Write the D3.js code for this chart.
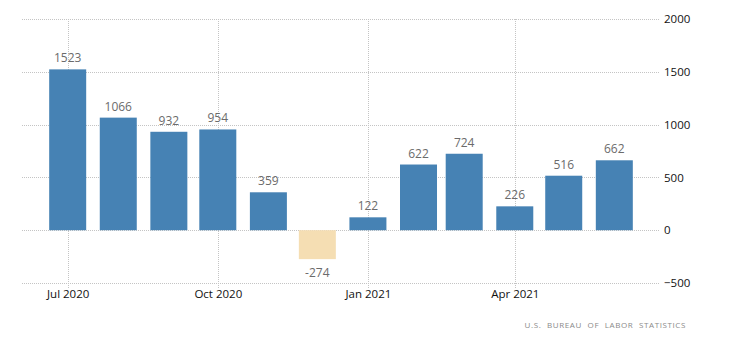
<!DOCTYPE html>
<html>
<head>
<meta charset="utf-8">
<script src="https://cdn.jsdelivr.net/npm/d3@7"></script>
<style>
  html, body { margin: 0; padding: 0; background: #fff; }
  svg { display: block; }
</style>
</head>
<body>
<svg id="chart" width="730" height="344"></svg>
<script>
// Monthly change, thousands of jobs
const months = ["2020-07", "2020-08", "2020-09", "2020-10", "2020-11", "2020-12",
                "2021-01", "2021-02", "2021-03", "2021-04", "2021-05", "2021-06"];
const values = [1523, 1066, 932, 954, 359, -274, 122, 622, 724, 226, 516, 662];
const yTicks = [-500, 0, 500, 1000, 1500, 2000];
const xTickDates = ["2020-07", "2020-10", "2021-01", "2021-04"];
const sourceText = "U.S. BUREAU OF LABOR STATISTICS";

const parse = d3.timeParse("%Y-%m");
const data = months.map((m, i) => ({ date: parse(m), value: values[i] }));

const svg = d3.select("#chart");
const font = "'Open Sans', 'DejaVu Sans', sans-serif";

const plotLeft = 22, plotRight = 660, plotTop = 19, plotBottom = 283;

const x = d3.scaleTime()
  .domain([new Date(2020, 5, 3), new Date(2021, 5, 29)])
  .range([plotLeft, plotRight]);

const y = d3.scaleLinear()
  .domain([-500, 2000])
  .range([plotBottom, plotTop]);

const barWidth = 37;

// Gridlines
const grid = svg.append("g");
grid.selectAll("line.h").data(yTicks).join("line")
  .attr("x1", plotLeft).attr("x2", plotRight)
  .attr("y1", d => Math.round(y(d)) + 0.5).attr("y2", d => Math.round(y(d)) + 0.5)
  .attr("stroke", "#c4c4c4").attr("stroke-dasharray", "1,1");
grid.selectAll("line.v").data(xTickDates.map(parse)).join("line")
  .attr("x1", d => Math.round(x(d)) + 0.5).attr("x2", d => Math.round(x(d)) + 0.5)
  .attr("y1", plotTop).attr("y2", plotBottom + 5)
  .attr("stroke", "#c4c4c4").attr("stroke-dasharray", "1,1");

// Bars
svg.append("g").selectAll("rect").data(data).join("rect")
  .attr("x", d => x(d.date) - barWidth / 2)
  .attr("width", barWidth)
  .attr("y", d => y(Math.max(0, d.value)))
  .attr("height", d => Math.abs(y(d.value) - y(0)))
  .attr("fill", d => d.value < 0 ? "#f5deb3" : "#4682b4");

// Value labels
svg.append("g").selectAll("text").data(data).join("text")
  .attr("x", d => x(d.date))
  .attr("y", d => d.value < 0 ? y(d.value) + 18 : y(d.value) - 7)
  .attr("text-anchor", "middle")
  .attr("font-family", font)
  .attr("font-size", 12)
  .attr("fill", "#6b6b6b")
  .text(d => d.value);

// Y axis (right side)
const yAxis = d3.axisRight(y).tickValues(yTicks).tickFormat(d3.format("d"))
  .tickSize(0).tickPadding(4);
svg.append("g")
  .attr("transform", `translate(${plotRight},0)`)
  .call(yAxis)
  .call(g => g.select(".domain").remove())
  .call(g => g.selectAll("text")
    .attr("font-family", font).attr("font-size", 11.5).attr("fill", "#111"));

// X axis
const xAxis = d3.axisBottom(x).tickValues(xTickDates.map(parse))
  .tickFormat(d3.timeFormat("%b %Y")).tickSize(0).tickPadding(7);
svg.append("g")
  .attr("transform", `translate(0,${plotBottom})`)
  .call(xAxis)
  .call(g => g.select(".domain").remove())
  .call(g => g.selectAll("text")
    .attr("font-family", font).attr("font-size", 11.5).attr("fill", "#111"));

// Source
svg.append("text")
  .attr("x", 686).attr("y", 328)
  .attr("text-anchor", "end")
  .attr("font-family", font)
  .attr("font-size", 8)
  .attr("letter-spacing", 0.6)
  .attr("word-spacing", 3)
  .attr("fill", "#8a8a8a")
  .text(sourceText);
</script>
</body>
</html>
